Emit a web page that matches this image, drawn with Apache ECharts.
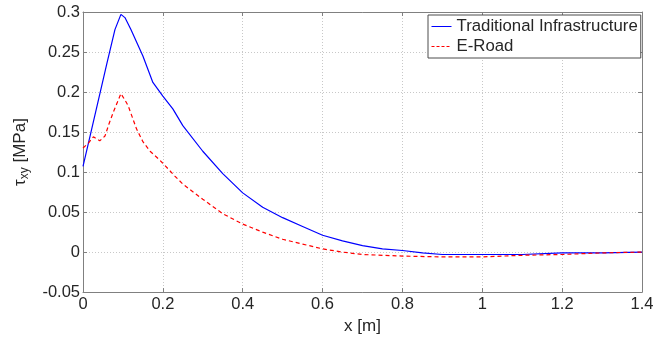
<!DOCTYPE html>
<html>
<head>
<meta charset="utf-8">
<script src="https://cdn.jsdelivr.net/npm/echarts@6/dist/echarts.min.js"></script>
<style>html,body{margin:0;padding:0;background:#fff}#c{width:666px;height:340px}</style>
</head>
<body>
<div id="c"></div>
<script>
var seriesNames = ['Traditional Infrastructure', 'E-Road'];
var xTicks = [0, 0.2, 0.4, 0.6, 0.8, 1, 1.2, 1.4];
var yTicks = [-0.05, 0, 0.05, 0.1, 0.15, 0.2, 0.25, 0.3];

var tradX = [0, 0.02, 0.04, 0.06, 0.08, 0.095, 0.105, 0.12, 0.15, 0.175, 0.2, 0.225, 0.25, 0.3, 0.35, 0.4, 0.45, 0.5, 0.55, 0.6, 0.65, 0.7, 0.75, 0.8, 0.85, 0.9, 0.95, 1.0, 1.1, 1.2, 1.3, 1.4];
var tradY = [0.107, 0.15, 0.193, 0.236, 0.278, 0.297, 0.293, 0.278, 0.245, 0.212, 0.195, 0.179, 0.158, 0.126, 0.098, 0.074, 0.056, 0.043, 0.032, 0.021, 0.014, 0.008, 0.004, 0.002, -0.001, -0.003, -0.003, -0.003, -0.003, -0.001, -0.001, 0];

var eroadX = [0, 0.015, 0.026, 0.042, 0.055, 0.065, 0.076, 0.095, 0.105, 0.113, 0.134, 0.15, 0.168, 0.19, 0.2, 0.23, 0.25, 0.3, 0.35, 0.4, 0.45, 0.5, 0.55, 0.6, 0.65, 0.7, 0.8, 0.9, 1.0, 1.1, 1.2, 1.3, 1.4];
var eroadY = [0.13, 0.137, 0.144, 0.139, 0.145, 0.16, 0.175, 0.198, 0.19, 0.183, 0.154, 0.138, 0.126, 0.116, 0.111, 0.095, 0.085, 0.066, 0.048, 0.035, 0.025, 0.016, 0.01, 0.004, 0.0, -0.003, -0.005, -0.006, -0.006, -0.004, -0.003, -0.001, 0];

function zip(xs, ys) { return xs.map(function (x, i) { return [x, ys[i]]; }); }
function fmt(v) { return String(parseFloat(v.toFixed(3))); }

var FONT = 'Liberation Sans, Arial, sans-serif';
var axisGray = '#808080';
var txt = '#262626';
var FS = 16.5;
var blue = '#0000ff', red = '#ff0000';

var chart = echarts.init(document.getElementById('c'), null, { renderer: 'canvas' });
chart.setOption({
  animation: false,
  backgroundColor: '#fff',
  textStyle: { fontFamily: FONT },
  grid: { left: 83, right: 24, top: 12, bottom: 44, containLabel: false },
  legend: {
    data: [
      { name: seriesNames[0], lineStyle: { color: blue, width: 1, type: 'solid' } },
      { name: seriesNames[1], lineStyle: { color: red, width: 1, type: [3, 2] } }
    ],
    orient: 'vertical',
    left: 428, top: 15,
    padding: [3, 3, 3, 3],
    itemWidth: 20, itemHeight: 14, itemGap: 3,
    itemStyle: { opacity: 0 },
    backgroundColor: '#fff',
    borderColor: '#4d4d4d', borderWidth: 1, borderRadius: 0,
    textStyle: { fontSize: 16.8, color: txt, fontFamily: FONT }
  },
  xAxis: [{
    type: 'value', min: xTicks[0], max: xTicks[xTicks.length - 1], interval: 0.2,
    name: 'x [m]', nameLocation: 'middle', nameGap: 20,
    nameTextStyle: { fontSize: 17, color: txt, fontFamily: FONT },
    axisLine: { show: true, onZero: false, lineStyle: { color: axisGray, width: 1 } },
    axisTick: { show: true, inside: true, length: 4, lineStyle: { color: axisGray } },
    axisLabel: { fontSize: FS, color: txt, margin: 4, formatter: fmt, fontFamily: FONT },
    splitLine: { show: true, lineStyle: { color: '#c8c8c8', type: [1, 2], width: 1 } }
  }, {
    type: 'value', position: 'top', min: 0, max: 1.4, interval: 0.2,
    axisLine: { show: true, onZero: false, lineStyle: { color: axisGray, width: 1 } },
    axisTick: { show: true, inside: true, length: 4, lineStyle: { color: axisGray } },
    axisLabel: { show: false }, splitLine: { show: false }
  }],
  yAxis: [{
    type: 'value', min: yTicks[0], max: yTicks[yTicks.length - 1], interval: 0.05,
    name: '{t|τ}{s|xy}{t| [MPa]}', nameLocation: 'middle', nameGap: 52, nameRotate: 90,
    nameTextStyle: {
      color: txt, fontFamily: FONT,
      rich: {
        t: { fontSize: 17, color: txt, fontFamily: FONT },
        s: { fontSize: 12, color: txt, fontFamily: FONT, padding: [9, 0, 0, 0] }
      }
    },
    axisLine: { show: true, onZero: false, lineStyle: { color: axisGray, width: 1 } },
    axisTick: { show: true, inside: true, length: 4, lineStyle: { color: axisGray } },
    axisLabel: { fontSize: FS, color: txt, margin: 3, formatter: fmt, fontFamily: FONT },
    splitLine: { show: true, lineStyle: { color: '#c8c8c8', type: [1, 2], width: 1 } }
  }, {
    type: 'value', position: 'right', min: -0.05, max: 0.3, interval: 0.05,
    axisLine: { show: true, onZero: false, lineStyle: { color: axisGray, width: 1 } },
    axisTick: { show: true, inside: true, length: 4, lineStyle: { color: axisGray } },
    axisLabel: { show: false }, splitLine: { show: false }
  }],
  series: [{
    name: seriesNames[0], type: 'line', data: zip(tradX, tradY),
    showSymbol: false, symbol: 'none', smooth: false,
    lineStyle: { color: blue, width: 1.2 }, itemStyle: { color: blue }
  }, {
    name: seriesNames[1], type: 'line', data: zip(eroadX, eroadY),
    showSymbol: false, symbol: 'none', smooth: false,
    lineStyle: { color: red, width: 1.2, type: [4, 3] }, itemStyle: { color: red }
  }]
});
</script>
</body>
</html>
